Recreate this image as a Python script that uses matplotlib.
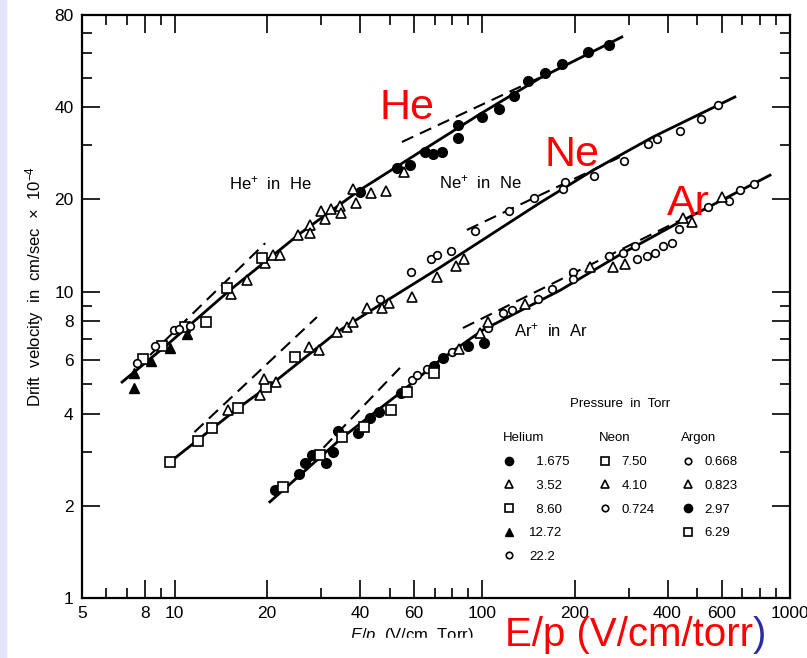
import matplotlib
matplotlib.use('Agg')
import matplotlib.pyplot as plt
from matplotlib.ticker import FixedLocator, FixedFormatter, NullFormatter
from matplotlib.lines import Line2D
from matplotlib.legend import Legend
from matplotlib.patches import Rectangle

plt.rcParams['font.family'] = ['Liberation Sans', 'DejaVu Sans']
plt.rcParams['mathtext.fontset'] = 'custom'
plt.rcParams['mathtext.rm'] = 'Liberation Sans'
plt.rcParams['mathtext.it'] = 'Liberation Sans:italic'

# ---- measured points (E/p in V/cm/Torr, drift velocity in 1e4 cm/s) ----
# Helium
he_1675_x = [40.1, 52.8, 58.2, 65.2, 69.2, 74.0, 83.4, 83.4, 99.8, 113, 127, 141, 160, 182, 221, 258]
he_1675_y = [21.1, 25.3, 25.9, 28.6, 28.1, 28.6, 31.7, 35.0, 37.2, 39.4, 43.5, 48.7, 51.7, 55.3, 60.6, 63.8]
he_352_x = [15.2, 17.2, 19.7, 20.9, 22.0, 25.2, 27.5, 27.5, 29.9, 30.8, 32.2, 34.5, 34.8, 38.0, 38.9, 43.5, 48.6, 55.7]
he_352_y = [9.82, 10.9, 12.4, 13.2, 13.2, 15.3, 16.5, 15.5, 18.3, 17.3, 18.6, 19.0, 18.1, 21.6, 19.5, 21.0, 21.3, 24.6]
he_860_x = [7.89, 9.10, 10.8, 12.6, 14.8, 19.2]
he_860_y = [6.03, 6.65, 7.66, 7.96, 10.3, 12.9]
he_1272_x = [7.38, 7.38, 8.38, 9.66, 11.0]
he_1272_y = [5.42, 4.85, 5.94, 6.55, 7.28]
he_222_x = [7.55, 8.63, 9.95, 10.3, 11.2]
he_222_y = [5.85, 6.65, 7.50, 7.55, 7.72]

# Neon
ne_750_x = [9.66, 11.9, 13.2, 16.1, 19.8, 24.6]
ne_750_y = [2.78, 3.25, 3.59, 4.17, 4.88, 6.12]
ne_410_x = [14.9, 18.9, 19.5, 21.4, 27.4, 29.4, 33.7, 36.3, 38.0, 42.2, 47.2, 49.8, 59.1, 71.3, 82.1, 87.2]
ne_410_y = [4.11, 4.60, 5.19, 5.07, 6.59, 6.45, 7.38, 7.66, 7.96, 8.84, 8.84, 9.18, 9.60, 11.2, 12.1, 12.8]
ne_0724_x = [46.5, 58.6, 68.1, 71.3, 79.1, 94.6, 122, 147, 183, 186, 231, 289, 346, 370, 439, 514, 583]
ne_0724_y = [9.46, 11.6, 12.8, 13.2, 13.6, 15.8, 18.3, 20.2, 21.6, 22.8, 23.8, 26.7, 30.3, 31.5, 33.4, 36.6, 40.6]

# Argon
ar_0668_x = [59.1, 61.4, 66.1, 79.7, 104, 117, 125, 152, 169, 197, 197, 258, 286, 313, 318, 343,
             364, 386, 414, 436, 542, 634, 688, 764]
ar_0668_y = [5.15, 5.34, 5.59, 6.35, 7.61, 8.51, 8.71, 9.46, 10.2, 11.6, 11.0, 13.1, 13.4, 14.1, 12.8, 13.1,
             13.4, 14.1, 14.4, 16.0, 18.9, 19.8, 21.5, 22.5]
ar_0823_x = [83.9, 98.3, 104, 138, 224, 266, 291, 449, 480, 601]
ar_0823_y = [6.50, 7.33, 7.96, 9.11, 12.0, 12.0, 12.3, 17.4, 16.9, 20.4]
ar_297_x = [21.2, 25.4, 26.5, 28.0, 31.0, 32.7, 34.0, 39.4, 43.2, 46.1, 54.5, 69.7, 74.5, 89.8, 101]
ar_297_y = [2.25, 2.54, 2.76, 2.93, 2.76, 3.00, 3.51, 3.46, 3.87, 4.05, 4.67, 5.72, 6.07, 6.65, 6.80]
ar_629_x = [22.5, 29.7, 35.0, 41.3, 50.5, 56.9, 69.7]
ar_629_y = [2.30, 2.93, 3.35, 3.61, 4.11, 4.70, 5.42]

# ---- curves ----
he_fit_x = [6.75, 9.44, 15.1, 25.6, 40.1, 62.8, 98.3, 154, 284]
he_fit_y = [5.07, 6.70, 10.1, 15.5, 21.5, 28.6, 38.0, 49.8, 67.8]
he_low_x, he_low_y = [8.32, 19.7], [6.21, 14.4]
he_high_x, he_high_y = [54.8, 160], [30.8, 50.9]
ne_fit_x = [9.66, 16.1, 21.5, 33.7, 47.5, 72.9, 106, 154, 229, 359, 662]
ne_fit_y = [2.78, 4.17, 5.15, 7.38, 9.18, 12.0, 15.3, 19.5, 24.9, 32.0, 43.2]
ne_low_x, ne_low_y = [11.6, 29.0], [3.48, 8.26]
ne_high_x, ne_high_y = [89.1, 280], [15.9, 27.5]
ar_fit_x = [20.4, 35.2, 54.0, 72.9, 100.5, 179, 280, 439, 861]
ar_fit_y = [2.06, 3.35, 4.67, 5.98, 7.50, 10.1, 13.2, 16.9, 24.0]
ar_low_x, ar_low_y = [27.5, 54.0], [2.78, 5.64]
ar_high_x, ar_high_y = [86.5, 439], [7.61, 17.1]

x_ticks = [5, 8, 10, 20, 40, 60, 100, 200, 400, 600, 1000]
x_minor = [6, 7, 9, 30, 50, 70, 80, 90, 300, 500, 700, 800, 900]
y_ticks = [1, 2, 4, 6, 8, 10, 20, 40, 80]
y_minor = [3, 5, 7, 9, 30, 50, 60, 70]

styles = {
    'dot': dict(marker='o', ms=7.0, mfc='k', mec='k', mew=1.0),
    'tri': dict(marker='^', ms=7.5, mfc='white', mec='k', mew=1.2),
    'sq': dict(marker='s', ms=7.0, mfc='white', mec='k', mew=1.2),
    'ftri': dict(marker='^', ms=7.5, mfc='k', mec='k', mew=1.0),
    'circ': dict(marker='o', ms=5.5, mfc='white', mec='k', mew=1.2),
}

fig = plt.figure(figsize=(8.07, 6.58), dpi=100)
fig.patch.set_facecolor('white')
ax = fig.add_axes([82/807, 60/658, 708/807, 583/658])
ax.set_xscale('log')
ax.set_yscale('log')
ax.set_xlim(5, 1000)
ax.set_ylim(1, 80)

for xs, ys in [(he_fit_x, he_fit_y), (ne_fit_x, ne_fit_y), (ar_fit_x, ar_fit_y)]:
    ax.plot(xs, ys, color='k', lw=2.0, zorder=2)
for xs, ys in [(he_low_x, he_low_y), (he_high_x, he_high_y), (ne_low_x, ne_low_y),
               (ne_high_x, ne_high_y), (ar_low_x, ar_low_y), (ar_high_x, ar_high_y)]:
    ax.plot(xs, ys, color='k', lw=1.5, ls=(0, (6, 3.5)), zorder=2)

series = [
    (he_1675_x, he_1675_y, 'dot'), (he_352_x, he_352_y, 'tri'), (he_860_x, he_860_y, 'sq'),
    (he_1272_x, he_1272_y, 'ftri'), (he_222_x, he_222_y, 'circ'),
    (ne_750_x, ne_750_y, 'sq'), (ne_410_x, ne_410_y, 'tri'), (ne_0724_x, ne_0724_y, 'circ'),
    (ar_0668_x, ar_0668_y, 'circ'), (ar_0823_x, ar_0823_y, 'tri'), (ar_297_x, ar_297_y, 'dot'),
    (ar_629_x, ar_629_y, 'sq'),
]
for xs, ys, k in series:
    ax.plot(xs, ys, ls='none', zorder=3, **styles[k])

ax.xaxis.set_major_locator(FixedLocator(x_ticks))
ax.xaxis.set_major_formatter(FixedFormatter([str(v) for v in x_ticks]))
ax.xaxis.set_minor_locator(FixedLocator(x_minor))
ax.xaxis.set_minor_formatter(NullFormatter())
ax.yaxis.set_major_locator(FixedLocator(y_ticks))
ax.yaxis.set_major_formatter(FixedFormatter([str(v) for v in y_ticks]))
ax.yaxis.set_minor_locator(FixedLocator(y_minor))
ax.yaxis.set_minor_formatter(NullFormatter())
ax.tick_params(which='both', direction='in', top=True, right=True, width=1.2, labelsize=12.5, pad=6)
ax.tick_params(which='major', length=13)
ax.tick_params(which='minor', length=7)
for s in ax.spines.values():
    s.set_linewidth(1.6)

# text inside the plot
ax.text(0.2655, 0.712, 'He$^{+}$  in  He', transform=ax.transAxes, ha='center', va='center', fontsize=12)
ax.text(0.562, 0.7136, 'Ne$^{+}$  in  Ne', transform=ax.transAxes, ha='center', va='center', fontsize=12)
ax.text(0.6624, 0.4597, 'Ar$^{+}$  in  Ar', transform=ax.transAxes, ha='center', va='center', fontsize=12)
ax.text(0.760, 0.333, 'Pressure  in  Torr', transform=ax.transAxes, ha='center', va='center',
        fontsize=9.5, weight='medium')

# pressure legend (three columns)
groups = [
    ('Helium', 0.594, [('dot', '  1.675'), ('tri', '  3.52'), ('sq', '  8.60'), ('ftri', '12.72'), ('circ', '22.2')], 1.0),
    ('Neon', 0.730, [('sq', '7.50'), ('tri', '4.10'), ('circ', '0.724')], 0.7),
    ('Argon', 0.846, [('circ', '0.668'), ('tri', '0.823'), ('dot', '2.97'), ('sq', '6.29')], 0.8),
]
for title, xa, items, pad in groups:
    handles = []
    for k, lab in items:
        st = dict(styles[k])
        st['ms'] = st['ms'] * 0.85
        handles.append(Line2D([], [], ls='none', **st))
    leg = Legend(ax, handles, [lab for _, lab in items], title=title, loc='upper left',
                 bbox_to_anchor=(xa, 0.284), frameon=False, borderpad=0, borderaxespad=0,
                 handlelength=1.0, handletextpad=pad, labelspacing=0.87, fontsize=9.5,
                 title_fontsize=9.5, alignment='left')
    ax.add_artist(leg)

# red overlay labels
ax.text(0.459, 0.8405, 'He', transform=ax.transAxes, ha='center', va='center', fontsize=31, color='red')
ax.text(0.692, 0.760, 'Ne', transform=ax.transAxes, ha='center', va='center', fontsize=31, color='red')
ax.text(0.856, 0.676, 'Ar', transform=ax.transAxes, ha='center', va='center', fontsize=31, color='red')

# axis labels
fig.text(35/807, 1 - 287/658, 'Drift  velocity  in  cm/sec  $\\times$  10$^{-4}$', rotation=90,
         ha='center', va='center', fontsize=12)
fig.text(350/807, 1 - 626/658, '$E/p$  (V/cm, Torr)', ha='left', va='top', fontsize=12, zorder=3)
fig.add_artist(Rectangle((0, 0), 1, 20/658, transform=fig.transFigure, color='white', zorder=5))
fig.add_artist(Rectangle((0, 0), 6/807, 1, transform=fig.transFigure, color='#e4e4fa', zorder=7))

t = fig.text(505/807, 12/658, 'E/p (V/cm/torr', ha='left', va='baseline', fontsize=29, color='red', zorder=6)
fig.canvas.draw()
bb = t.get_window_extent(renderer=fig.canvas.get_renderer())
fig.text(bb.x1 / fig.bbox.width, 12/658, ')', ha='left', va='baseline', fontsize=29, color='#2b2ba8', zorder=6)

fig.savefig('out.png', dpi=100)
